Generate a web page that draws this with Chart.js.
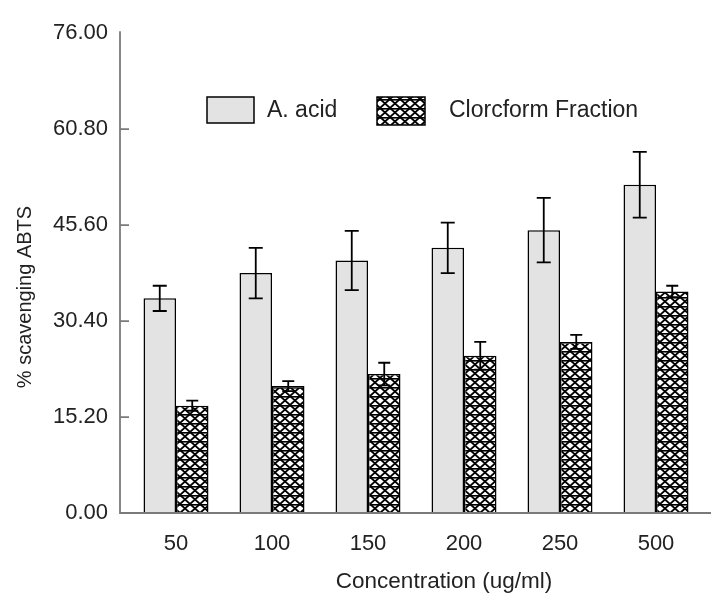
<!DOCTYPE html>
<html><head><meta charset="utf-8">
<script src="https://cdn.jsdelivr.net/npm/chart.js@4"></script>
<style>html,body{margin:0;padding:0;background:#fff}#c{display:block}</style>
</head><body>
<canvas id="c" width="711" height="594"></canvas>
<script>
const categories = ['50', '100', '150', '200', '250', '500'];
const acidValues = [34, 38, 40, 42, 44.8, 52];
const acidErrors = [2, 4, 4.7, 4, 5.1, 5.2];
const chloroValues = [17, 20.1, 22, 24.9, 27.1, 35.1];
const chloroErrors = [0.8, 0.8, 1.8, 2.2, 1.1, 0.9];
const yTicks = [0, 15.2, 30.4, 45.6, 60.8, 76];
const seriesNames = ['A. acid', 'Clorcform Fraction'];
const xTitle = 'Concentration (ug/ml)';
const yTitle = '% scavenging ABTS';

const FONT = "'Liberation Sans', Arial, sans-serif";

function makePattern() {
  const t = document.createElement('canvas');
  t.width = 10; t.height = 9;
  const g = t.getContext('2d');
  g.fillStyle = '#fff'; g.fillRect(0, 0, 10, 9);
  g.strokeStyle = '#000'; g.lineWidth = 1.8;
  g.beginPath();
  g.moveTo(0, 0); g.lineTo(10, 9);
  g.moveTo(10, 0); g.lineTo(0, 9);
  g.stroke();
  g.fillStyle = '#000'; g.fillRect(0, 0, 10, 1.6);
  return g.createPattern(t, 'repeat');
}
const hatch = makePattern();
const acidFill = '#e3e3e3';
const errorSets = [acidErrors, chloroErrors];

const overlay = {
  id: 'overlay',
  afterDatasetsDraw(chart) {
    const ctx = chart.ctx;
    const y = chart.scales.y;
    const area = chart.chartArea;
    ctx.save();
    // error bars
    ctx.strokeStyle = '#000';
    ctx.lineWidth = 1.8;
    chart.data.datasets.forEach((ds, di) => {
      const meta = chart.getDatasetMeta(di);
      meta.data.forEach((bar, i) => {
        const v = ds.data[i], e = errorSets[di][i];
        const yt = y.getPixelForValue(v + e), yb = y.getPixelForValue(v - e);
        const cx = bar.x, hw = di === 0 ? 7 : 6;
        ctx.beginPath();
        ctx.moveTo(cx, yt); ctx.lineTo(cx, yb);
        ctx.moveTo(cx - hw, yt); ctx.lineTo(cx + hw, yt);
        ctx.moveTo(cx - hw, yb); ctx.lineTo(cx + hw, yb);
        ctx.stroke();
      });
    });
    // axes
    const ax = area.left - 8;
    const y0 = y.getPixelForValue(0);
    ctx.strokeStyle = '#7a7a7a';
    ctx.lineWidth = 1.8;
    ctx.beginPath();
    ctx.moveTo(ax, area.top - 2); ctx.lineTo(ax, y0);
    ctx.lineTo(chart.width, y0);
    yTicks.forEach(t => {
      if (t === 0 || t === yTicks[yTicks.length - 1]) return;
      const py = y.getPixelForValue(t);
      ctx.moveTo(ax, py); ctx.lineTo(ax + 9, py);
    });
    ctx.stroke();
    // legend
    const items = [
      {x: 207, y: 97, w: 47, h: 26, fill: acidFill, tx: 267},
      {x: 377, y: 97, w: 48, h: 28, fill: hatch, tx: 449}
    ];
    ctx.font = '23px ' + FONT;
    ctx.textBaseline = 'middle';
    ctx.textAlign = 'left';
    items.forEach((it, k) => {
      ctx.fillStyle = it.fill;
      ctx.fillRect(it.x, it.y, it.w, it.h);
      ctx.strokeStyle = '#000';
      ctx.lineWidth = 1.5;
      ctx.strokeRect(it.x, it.y, it.w, it.h);
      ctx.fillStyle = '#222';
      ctx.fillText(chart.data.datasets[k].label, it.tx, 111);
    });
    // axis titles
    ctx.fillStyle = '#222';
    ctx.textAlign = 'center';
    ctx.textBaseline = 'middle';
    ctx.font = '22.5px ' + FONT;
    ctx.fillText(xTitle, 444, 582);
    ctx.save();
    ctx.translate(25, 297);
    ctx.rotate(-Math.PI / 2);
    ctx.font = '20px ' + FONT;
    ctx.fillText(yTitle, 0, 0);
    ctx.restore();
    ctx.restore();
  }
};

new Chart(document.getElementById('c'), {
  type: 'bar',
  data: {
    labels: categories,
    datasets: [
      {label: seriesNames[0], data: acidValues, backgroundColor: acidFill, borderColor: '#000', borderWidth: 1.5},
      {label: seriesNames[1], data: chloroValues, backgroundColor: hatch, borderColor: '#000', borderWidth: 1.5}
    ]
  },
  options: {
    responsive: false,
    animation: false,
    devicePixelRatio: 1,
    layout: {padding: {left: 0, right: 7, top: 25, bottom: 0}},
    datasets: {bar: {categoryPercentage: 0.677, barPercentage: 1.0}},
    plugins: {legend: {display: false}, tooltip: {enabled: false}},
    scales: {
      x: {
        grid: {display: false, drawTicks: false},
        border: {display: false},
        ticks: {color: '#222', font: {family: FONT, size: 22}, padding: 18, maxRotation: 0},
        afterFit(s) { s.height = 81; }
      },
      y: {
        min: 0, max: 76,
        afterBuildTicks(s) { s.ticks = yTicks.map(v => ({value: v})); },
        grid: {display: false, drawTicks: false},
        border: {display: false},
        ticks: {color: '#222', font: {family: FONT, size: 22}, padding: 20, callback: v => Number(v).toFixed(2)},
        afterFit(s) { s.width = 128; }
      }
    }
  },
  plugins: [overlay]
});
</script>
</body></html>
